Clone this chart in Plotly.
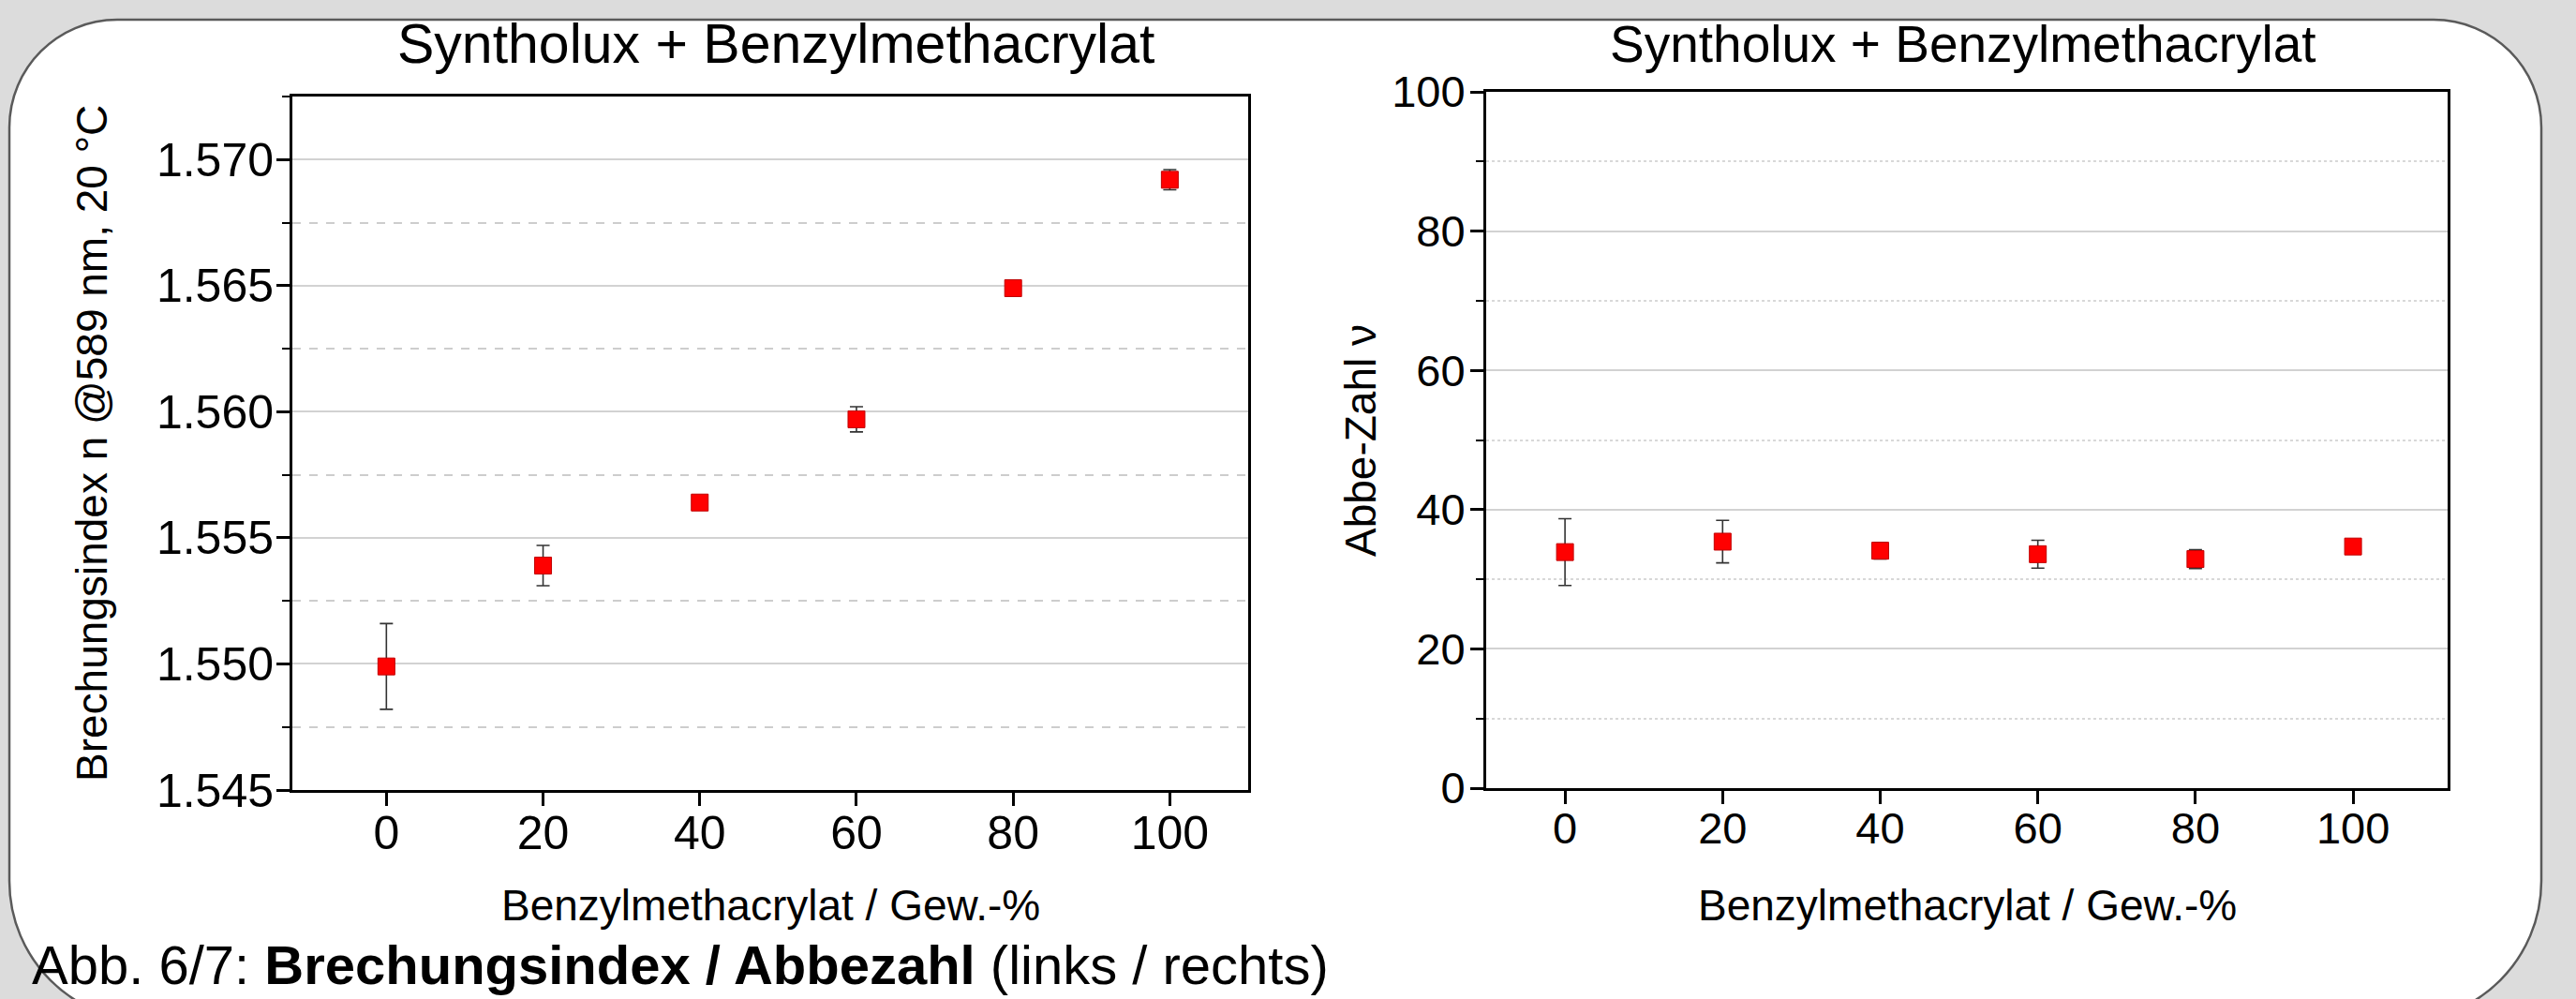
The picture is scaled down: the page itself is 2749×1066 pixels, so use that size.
import plotly.graph_objects as go

# ---------------- data ----------------
benzyl_pct = [0, 20, 40, 60, 80, 100]

n_index = [1.5499, 1.5539, 1.5564, 1.5597, 1.5649, 1.5692]
n_err = [0.0017, 0.0008, 0.0001, 0.0005, 0.0003, 0.0004]

abbe = [33.9, 35.4, 34.1, 33.6, 32.9, 34.7]
abbe_err = [4.8, 3.05, 1.2, 2.0, 1.35, 0.9]

x_ticks = [0, 20, 40, 60, 80, 100]
n_ticks = [1.545, 1.550, 1.555, 1.560, 1.565, 1.570]
abbe_ticks = [0, 20, 40, 60, 80, 100]

title_text = "Syntholux + Benzylmethacrylat"
x_title = "Benzylmethacrylat / Gew.-%"
y1_title = "Brechungsindex n @589 nm, 20 °C"
y2_title = "Abbe-Zahl ν"
caption = "Abb. 6/7: <b>Brechungsindex / Abbezahl</b> (links / rechts)"

# ---------------- layout helpers ----------------
W, H = 2749, 1066
FONT = "Liberation Sans, Arial, Helvetica, sans-serif"


def px(x):
    return x / W


def py(y):
    return 1 - y / H


fig = go.Figure()

marker = dict(symbol="square", size=18, color="#ff0000",
              line=dict(width=1, color="#c00000"))

fig.add_trace(go.Scatter(
    x=benzyl_pct, y=n_index, mode="markers", marker=marker,
    error_y=dict(type="data", array=n_err, color="#333333", thickness=1.6, width=7),
    xaxis="x", yaxis="y", showlegend=False))

fig.add_trace(go.Scatter(
    x=benzyl_pct, y=abbe, mode="markers", marker=marker,
    error_y=dict(type="data", array=abbe_err, color="#333333", thickness=1.6, width=7),
    xaxis="x2", yaxis="y2", showlegend=False))


def axis_common(fs, standoff):
    return dict(showline=True, linecolor="black", linewidth=3, mirror=True,
                ticks="outside", ticklen=14, tickwidth=2.5, tickcolor="black",
                zeroline=False, automargin=False, ticklabelstandoff=standoff,
                tickfont=dict(family=FONT, size=fs, color="black"))


fig.update_layout(
    width=W, height=H,
    margin=dict(l=0, r=0, t=0, b=0, pad=0),
    paper_bgcolor="#dcdcdc",
    plot_bgcolor="white",
    font=dict(family=FONT, color="black"),
    xaxis=dict(domain=[px(312), px(1332)], range=[-12, 110], tickvals=x_ticks,
               showgrid=False, anchor="y", **axis_common(50, -14)),
    yaxis=dict(domain=[py(843), py(103)], range=[1.545, 1.5725], tickvals=n_ticks,
               tickformat=".3f", showgrid=True, gridcolor="#d2d2d2", gridwidth=1.5,
               minor=dict(dtick=0.0025, tick0=1.545, ticks="outside", ticklen=8,
                          tickwidth=2, tickcolor="black", showgrid=True,
                          gridcolor="#cdcdcd", griddash="dash", gridwidth=1.5),
               anchor="x", **axis_common(50, -7)),
    xaxis2=dict(domain=[px(1586), px(2612)], range=[-10, 112], tickvals=x_ticks,
                showgrid=False, anchor="y2", **axis_common(47, -14)),
    yaxis2=dict(domain=[py(841), py(98)], range=[0, 100], tickvals=abbe_ticks,
                showgrid=True, gridcolor="#d2d2d2", gridwidth=1.5,
                minor=dict(dtick=10, tick0=0, ticks="outside", ticklen=8,
                           tickwidth=2, tickcolor="black", showgrid=True,
                           gridcolor="#d8d8d8", griddash="dot", gridwidth=1.5),
                anchor="x2", **axis_common(47, -4)),
)

# rounded white panel behind the charts
k = 0.5523
L, R, T, B = 10, 2712, 21, 1090
rt, rb = 115, 150
path = (
    f"M {px(L + rt)},{py(T)} "
    f"L {px(R - rt)},{py(T)} "
    f"C {px(R - rt + rt * k)},{py(T)} {px(R)},{py(T + rt - rt * k)} {px(R)},{py(T + rt)} "
    f"L {px(R)},{py(B - rb)} "
    f"C {px(R)},{py(B - rb + rb * k)} {px(R - rb + rb * k)},{py(B)} {px(R - rb)},{py(B)} "
    f"L {px(L + rb)},{py(B)} "
    f"C {px(L + rb - rb * k)},{py(B)} {px(L)},{py(B - rb + rb * k)} {px(L)},{py(B - rb)} "
    f"L {px(L)},{py(T + rt)} "
    f"C {px(L)},{py(T + rt - rt * k)} {px(L + rt - rt * k)},{py(T)} {px(L + rt)},{py(T)} Z"
)
fig.add_shape(type="path", path=path, xref="paper", yref="paper",
              fillcolor="white", line=dict(color="#5a5a5a", width=2.5), layer="below")

ann = []
ann.append(dict(text=title_text, x=px(828), y=py(47), font=dict(size=59)))
ann.append(dict(text=title_text, x=px(2095), y=py(47), font=dict(size=55)))
ann.append(dict(text=x_title, x=px(822), y=py(966), font=dict(size=46)))
ann.append(dict(text=x_title, x=px(2099), y=py(966), font=dict(size=46)))
ann.append(dict(text=y1_title, x=px(98), y=py(473), textangle=-90, font=dict(size=46)))
ann.append(dict(text=y2_title, x=px(1452), y=py(470), textangle=-90, font=dict(size=46)))
for a in ann:
    a.update(xref="paper", yref="paper", xanchor="center", yanchor="middle",
             showarrow=False)
    a["font"].update(family=FONT, color="black")
fig.update_layout(annotations=ann)
fig.add_annotation(text=caption, x=px(32), y=py(1029), xref="paper", yref="paper",
                   xanchor="left", yanchor="middle", showarrow=False,
                   font=dict(family=FONT, size=58, color="black"))

fig.write_html("out.html")
